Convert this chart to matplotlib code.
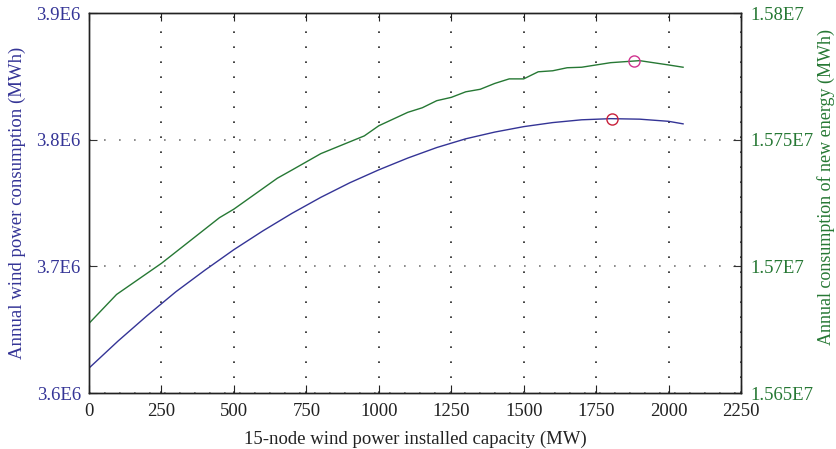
"""
Annual wind power and new-energy consumption vs. 15-node wind capacity.
"""

import matplotlib
matplotlib.use('Agg')
import matplotlib.pyplot as plt

plt.rcParams['font.family'] = ['Liberation Serif', 'DejaVu Serif']

blue = [y/255 for y in (52, 52, 150)]
green = [y/255 for y in (38, 120, 52)]

# ---------------------------------------
# Data
# ---------------------------------------
wind_capacity = [0, 100, 200, 300, 400, 500, 600, 700, 800, 900, 1000,
                 1100, 1200, 1300, 1400, 1500, 1600, 1700, 1800, 1900, 2000, 2050]
wind_consumption = [3.6197e6, 3.6410e6, 3.6610e6, 3.6800e6, 3.6970e6, 3.7132e6,
                    3.7280e6, 3.7418e6, 3.7545e6, 3.7660e6, 3.7762e6, 3.7855e6,
                    3.7938e6, 3.8007e6, 3.8060e6, 3.8103e6, 3.8135e6, 3.8157e6,
                    3.8166e6, 3.8162e6, 3.8145e6, 3.8125e6]

ne_capacity = [0, 95, 250, 450, 500, 650, 700, 800, 950, 1000, 1100, 1150, 1200,
               1250, 1300, 1350, 1400, 1450, 1500, 1550, 1600, 1650, 1700, 1750,
               1800, 1900, 2000, 2050]
ne_consumption = [1.56775e7, 1.56889e7, 1.57012e7, 1.57192e7, 1.57226e7, 1.57348e7,
                  1.57380e7, 1.57445e7, 1.57515e7, 1.57555e7, 1.57608e7, 1.57626e7,
                  1.57654e7, 1.57667e7, 1.57689e7, 1.57699e7, 1.57722e7, 1.57740e7,
                  1.57740e7, 1.57768e7, 1.57772e7, 1.57784e7, 1.57786e7, 1.57795e7,
                  1.57804e7, 1.57812e7, 1.57795e7, 1.57786e7]

wind_peak = (1805, 3.8166e6)
ne_peak = (1880, 1.57811e7)

x_ticks = [0, 250, 500, 750, 1000, 1250, 1500, 1750, 2000, 2250]
left_ticks = [3.6e6, 3.7e6, 3.8e6, 3.9e6]
left_labels = ['3.6E6', '3.7E6', '3.8E6', '3.9E6']
right_ticks = [1.565e7, 1.57e7, 1.575e7, 1.58e7]
right_labels = ['1.565E7', '1.57E7', '1.575E7', '1.58E7']

# ---------------------------------------
# Plot
# ---------------------------------------
fig, ax1 = plt.subplots(figsize=(8.36, 4.49), dpi=100)
fig.subplots_adjust(left=0.1065, right=0.8864, bottom=0.1247, top=0.971)

ax1.plot(wind_capacity, wind_consumption, color=blue, linewidth=1.0)
ax1.plot(*wind_peak, marker='o', markersize=8, markerfacecolor='none',
         markeredgecolor='#c8203a', markeredgewidth=1.0)
ax1.set_xlim(0, 2250)
ax1.set_ylim(3.6e6, 3.9e6)
ax1.set_xticks(x_ticks)
ax1.set_yticks(left_ticks)
ax1.set_yticklabels(left_labels)
ax1.set_xlabel('15-node wind power installed capacity (MW)', fontsize=13.5,
               color='#222222', labelpad=8)
ax1.set_ylabel('Annual wind power consumption (MWh)', fontsize=13.5, color=blue)
ax1.yaxis.set_label_coords(-0.097, 0.5)
ax1.tick_params(axis='x', labelsize=13.5, direction='in', length=6, top=True,
                colors='#222222', pad=7)
ax1.tick_params(axis='y', labelsize=13.5, direction='in', length=6, labelcolor=blue,
                color='#333333', pad=6)
ax1.grid(True, axis='x', linestyle=(0, (1, 8)), color='#222222', linewidth=1.2)
ax1.grid(True, axis='y', linestyle=(0, (1, 8)), color='#777777', linewidth=1.2)

ax2 = ax1.twinx()
ax2.plot(ne_capacity, ne_consumption, color=green, linewidth=1.0)
ax2.plot(*ne_peak, marker='o', markersize=8, markerfacecolor='none',
         markeredgecolor='#d0338f', markeredgewidth=1.0)
ax2.set_ylim(1.565e7, 1.58e7)
ax2.set_yticks(right_ticks)
ax2.set_yticklabels(right_labels)
ax2.set_ylabel('Annual consumption of new energy (MWh)', fontsize=13, color=green)
ax2.yaxis.set_label_coords(1.116, 0.542)
ax2.tick_params(axis='y', labelsize=13.5, direction='in', length=6, labelcolor=green,
                color='#333333', pad=7)

for ax in (ax1, ax2):
    for s in ax.spines.values():
        s.set_color('#222222')
        s.set_linewidth(1.0)

plt.savefig('out.png', dpi=100)
